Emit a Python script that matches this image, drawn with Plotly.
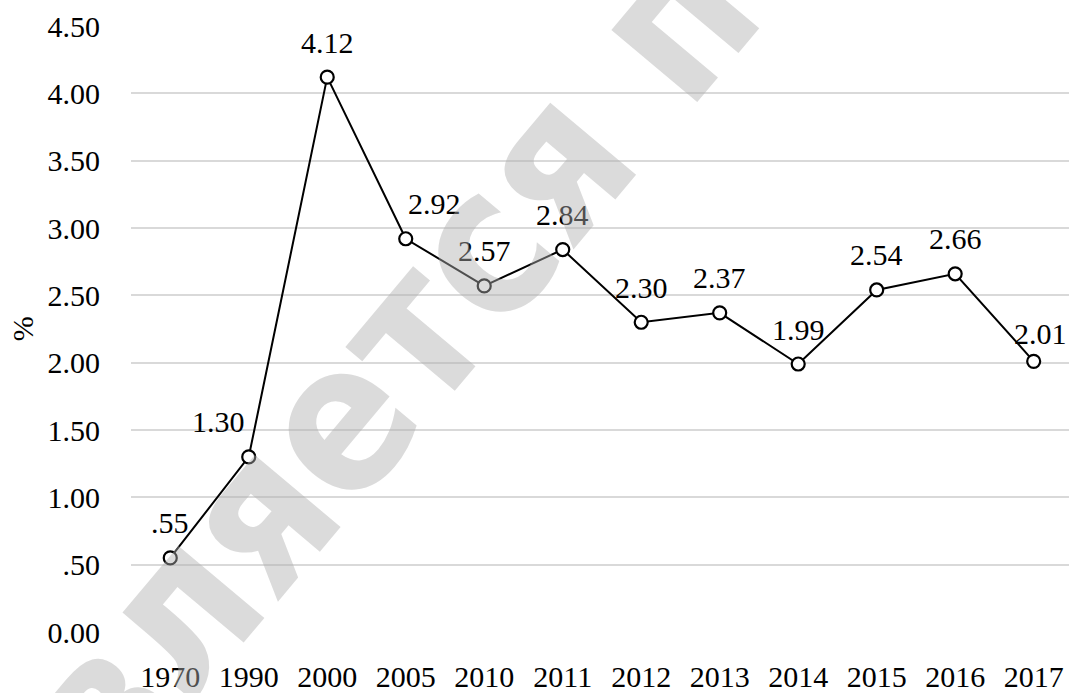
import plotly.graph_objects as go

years = ["1970", "1990", "2000", "2005", "2010", "2011", "2012", "2013", "2014", "2015", "2016", "2017"]
share = [0.55, 1.30, 4.12, 2.92, 2.57, 2.84, 2.30, 2.37, 1.99, 2.54, 2.66, 2.01]
y_ticks = [0.0, 0.5, 1.0, 1.5, 2.0, 2.5, 3.0, 3.5, 4.0, 4.5]
y_tick_text = ["0.00", ".50", "1.00", "1.50", "2.00", "2.50", "3.00", "3.50", "4.00", "4.50"]

# nudges for labels that would otherwise sit on the line
label_dx = [0, -30, 0, 29, 0, 0, 0, 0, 0, 0, 0, 7]
label_dy = [35, 35, 35, 35, 35, 35, 35, 35, 35, 35, 35, 28]

FONT = "Liberation Serif, Times New Roman, serif"


def fmt(v):
    s = f"{v:.2f}"
    return s[1:] if s.startswith("0.") and v != 0 else s


fig = go.Figure()
fig.add_trace(go.Scatter(
    x=years, y=share, mode="lines+markers",
    line=dict(color="black", width=2),
    marker=dict(symbol="circle", size=13, color="white",
                line=dict(color="black", width=2.2)),
    cliponaxis=False, showlegend=False, hoverinfo="skip",
))

annotations = []
for i, (v, dx, dy) in enumerate(zip(share, label_dx, label_dy)):
    annotations.append(dict(
        x=i, y=v, xref="x", yref="y", text=fmt(v), showarrow=False,
        xshift=dx, yshift=dy, xanchor="center", yanchor="middle",
        font=dict(family=FONT, size=30, color="black"),
    ))

# axis title
annotations.append(dict(
    xref="paper", yref="paper", x=-0.116, y=0.5, text="%",
    textangle=-90, showarrow=False, xanchor="center", yanchor="middle",
    font=dict(family=FONT, size=30, color="black"),
))

# diagonal watermark
annotations.append(dict(
    xref="paper", yref="paper", x=0.275, y=0.45, text="<b>является пе</b>",
    textangle=-50, showarrow=False, xanchor="center", yanchor="middle",
    font=dict(family="DejaVu Sans Condensed, DejaVu Sans, sans-serif",
              size=205, color="rgba(175,175,175,0.45)"),
))

fig.update_layout(
    width=1069, height=693,
    margin=dict(l=131, r=0, t=26, b=52),
    paper_bgcolor="white", plot_bgcolor="white",
    annotations=annotations,
    xaxis=dict(
        type="category", range=[-0.5, 11.45],
        showgrid=False, showline=False, zeroline=False,
        ticks="outside", ticklen=18, tickcolor="rgba(0,0,0,0)",
        tickfont=dict(family=FONT, size=30, color="black"),
    ),
    yaxis=dict(
        range=[0, 4.5], tickvals=y_ticks, ticktext=y_tick_text,
        showgrid=True, gridcolor="#d9d9d9", gridwidth=1.5,
        zeroline=False, showline=False,
        ticks="outside", ticklen=24, tickcolor="rgba(0,0,0,0)",
        tickfont=dict(family=FONT, size=30, color="black"),
    ),
)

fig.write_html("out.html")
